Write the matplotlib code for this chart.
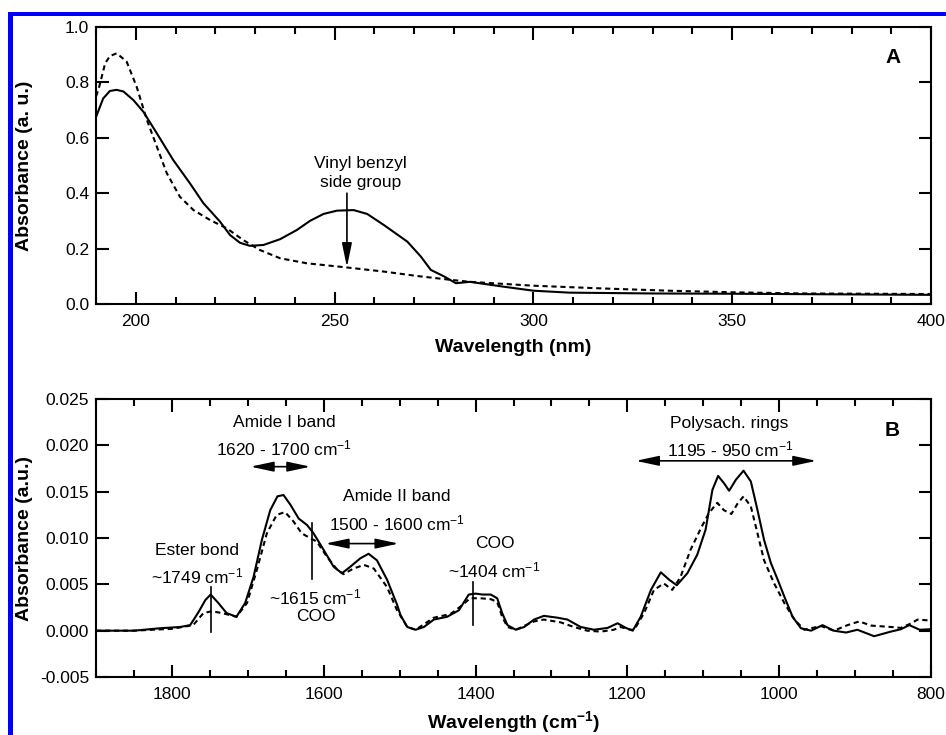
import matplotlib

matplotlib.use("Agg")
import matplotlib.pyplot as plt
from matplotlib.patches import Rectangle
from matplotlib.ticker import MultipleLocator, FormatStrFormatter

plt.rcParams["font.family"] = ["Liberation Sans", "DejaVu Sans"]
plt.rcParams["mathtext.fontset"] = "custom"
plt.rcParams["mathtext.rm"] = "Liberation Sans"
plt.rcParams["mathtext.it"] = "Liberation Sans:italic"
plt.rcParams["mathtext.bf"] = "Liberation Sans:bold"

# ---- panel A: UV-vis ----
uv_nm_solid = [190, 191.8, 193.5, 195.2, 196.9, 199.4, 201.9, 205.3, 209.4, 213.6, 217,
               221.2, 223.7, 226.2, 228.7, 232.1, 236.3, 240.5, 243.8, 247.2, 250.6,
               254.8, 258.2, 262.4, 268.3, 271.7, 274.2, 277.6, 280.5, 284, 292.5, 300,
               309, 330, 350, 375, 400]
uv_abs_solid = [0.675, 0.742, 0.769, 0.773, 0.767, 0.736, 0.694, 0.616, 0.52, 0.436, 0.364,
                0.297, 0.249, 0.221, 0.21, 0.213, 0.234, 0.267, 0.3, 0.325, 0.337,
                0.339, 0.325, 0.285, 0.225, 0.171, 0.123, 0.099, 0.075, 0.08, 0.0625, 0.048,
                0.041, 0.038, 0.037, 0.035, 0.033]

uv_nm_dash = [190, 190.6, 192.3, 193.5, 195.2, 197.7, 200.2, 202.8, 205.3, 207.8, 211.1,
              214.5, 218.7, 222.9, 227, 231.2, 236.3, 243, 253, 262.4, 270.8, 279.3, 284,
              300, 317.6, 334, 351, 368, 400]
uv_abs_dash = [0.75, 0.773, 0.869, 0.895, 0.905, 0.875, 0.785, 0.664, 0.568, 0.472, 0.387,
               0.339, 0.303, 0.273, 0.231, 0.195, 0.165, 0.147, 0.132, 0.117, 0.101, 0.087,
               0.08, 0.066, 0.056, 0.048, 0.042, 0.038, 0.036]

# ---- panel B: FTIR ----
ir_cm_solid = [1900, 1850, 1816, 1789, 1776, 1765, 1756, 1749, 1739, 1728, 1715, 1703.5,
               1692.5, 1681.5, 1670.5, 1661, 1653, 1644, 1633, 1622, 1613.4, 1600, 1587,
               1576, 1565, 1552, 1541, 1530, 1516.6, 1503.4, 1499, 1490, 1479, 1468, 1455,
               1437.5, 1422, 1409, 1400, 1391, 1380, 1371.5, 1365, 1358, 1347, 1336, 1323,
               1310, 1292, 1279, 1261.6, 1244, 1226, 1213, 1202, 1193, 1182.5, 1169, 1156,
               1145, 1135, 1121, 1108, 1097, 1088, 1080.5, 1072.6, 1066, 1057, 1047,
               1037.4, 1028.6, 1020, 1011, 1002, 993.4, 982.4, 971.4, 958, 943, 928, 912,
               897, 875, 853, 840, 828.6, 815, 802, 800]
ir_abs_solid = [0.0, 0.0, 0.00026, 0.0004, 0.0006, 0.0020, 0.0033, 0.0039, 0.0030, 0.0019,
                0.0015, 0.0030, 0.0058, 0.0098, 0.0130, 0.0145, 0.01464, 0.0136, 0.0121,
                0.0114, 0.0105, 0.0087, 0.0069, 0.0062, 0.0069, 0.0078, 0.0083, 0.0076,
                0.0055, 0.0028, 0.0017, 0.0004, 0.0001, 0.0004, 0.0012, 0.0015, 0.0022,
                0.0039, 0.0040, 0.0039, 0.0039, 0.0035, 0.0019, 0.0006, 0.0001, 0.0004,
                0.0012, 0.0016, 0.0014, 0.0012, 0.0004, 0.0001, 0.0003, 0.0008, 0.0003,
                0.0, 0.0015, 0.0044, 0.0063, 0.0055, 0.0049, 0.0062, 0.0082, 0.0109, 0.0152,
                0.0167, 0.0159, 0.0151, 0.0163, 0.01727, 0.0161, 0.0130, 0.0098, 0.0073,
                0.0055, 0.0037, 0.0015, 0.00026, 0.0, 0.0006, 0.0, -0.0002, 0.0001, -0.0006,
                -0.0001, 0.00015, 0.0006, 0.0001, 0.00015, 0.00015]

ir_cm_dash = [1900, 1850, 1800, 1772, 1758.5, 1747.5, 1734, 1715, 1701, 1688, 1675, 1662,
              1651, 1640, 1629, 1618, 1609, 1596, 1582.5, 1574, 1561, 1547, 1534, 1516.6,
              1503.4, 1490, 1479, 1455, 1433, 1420, 1407, 1393.5, 1380, 1371.5, 1365, 1358,
              1347, 1323, 1310, 1288, 1270.5, 1253, 1235, 1218, 1209, 1196, 1191, 1178,
              1165, 1152, 1141, 1130, 1117, 1103.5, 1092.6, 1081.6, 1072.8, 1063, 1055,
              1047, 1037.4, 1028.6, 1020, 1006.7, 993.4, 980, 967, 945, 928, 910, 894.6,
              879, 853, 840, 828.6, 817.6, 802, 800]
ir_abs_dash = [0.0, 0.0, 0.0002, 0.0006, 0.0019, 0.0021, 0.0019, 0.0015, 0.0030, 0.0066,
               0.0105, 0.0125, 0.0128, 0.0118, 0.0105, 0.0100, 0.0096, 0.0080, 0.0066,
               0.0061, 0.0067, 0.0071, 0.0067, 0.0047, 0.0022, 0.0004, 0.0001, 0.0014,
               0.0018, 0.0026, 0.0035, 0.0035, 0.0034, 0.0031, 0.0015, 0.0004, 0.0001,
               0.0010, 0.0012, 0.0009, 0.0004, 0.0, -0.0001, 0.0001, 0.0004, 0.0001, 0.0001,
               0.0019, 0.0044, 0.0051, 0.0044, 0.0058, 0.0087, 0.0110, 0.0127, 0.0138,
               0.0130, 0.0126, 0.0137, 0.0145, 0.0134, 0.0105, 0.0076, 0.0051, 0.0030,
               0.0012, 0.0001, 0.0005, 0.0, 0.0006, 0.0010, 0.00055, 0.0004, 0.0003, 0.0007,
               0.0012, 0.0011, 0.0011]

DASH = (0, (2.5, 1.8))
TICK = 12.5
LABEL = 14
NOTE = 12.5

fig = plt.figure(figsize=(9.46, 7.35), dpi=100)

# blue frame on top and left edge of the original figure
fig.add_artist(Rectangle((8 / 946, 0), 5 / 946, 1 - 12 / 735,
                         transform=fig.transFigure, color="#0000ff", lw=0))
fig.add_artist(Rectangle((8 / 946, 1 - 16 / 735), 1, 4 / 735,
                         transform=fig.transFigure, color="#0000ff", lw=0))

axA = fig.add_axes([0.1015, 0.5864, 0.8827, 0.3769])
axB = fig.add_axes([0.1015, 0.0789, 0.8827, 0.3782])


def style(ax):
    for sp in ax.spines.values():
        sp.set_linewidth(1.5)
    ax.tick_params(which="both", direction="in", top=True, right=True, width=1.5,
                   labelsize=TICK)
    ax.tick_params(which="major", length=9)
    ax.tick_params(which="minor", length=5)
    ax.tick_params(axis="x", pad=7.5)
    ax.tick_params(axis="y", pad=5)
    ax.yaxis.set_label_coords(-0.0754, 0.5)


# ---- A ----
axA.plot(uv_nm_solid, uv_abs_solid, color="k", lw=1.5)
axA.plot(uv_nm_dash, uv_abs_dash, color="k", lw=1.5, linestyle=DASH)
axA.set_xlim(190, 400)
axA.set_ylim(0, 1.0)
axA.xaxis.set_major_locator(MultipleLocator(50))
axA.xaxis.set_minor_locator(MultipleLocator(10))
axA.yaxis.set_major_locator(MultipleLocator(0.2))
axA.yaxis.set_major_formatter(FormatStrFormatter("%.1f"))
axA.set_xlabel("Wavelength (nm)", fontsize=LABEL, fontweight="bold", labelpad=7)
axA.set_ylabel("Absorbance (a. u.)", fontsize=LABEL, fontweight="bold")
style(axA)
axA.annotate("", xy=(253.1, 0.133), xytext=(253.1, 0.40),
             arrowprops=dict(arrowstyle="-|>,head_length=1.45,head_width=0.3",
                             mutation_scale=10, color="k", lw=1.2, shrinkA=0, shrinkB=0))
axA.text(256.5, 0.507, "Vinyl benzyl", ha="center", va="center", fontsize=NOTE)
axA.text(256.5, 0.437, "side group", ha="center", va="center", fontsize=NOTE)
axA.text(390.4, 0.89, "A", ha="center", va="center", fontsize=15, fontweight="bold")

# ---- B ----
axB.plot(ir_cm_solid, ir_abs_solid, color="k", lw=1.5)
axB.plot(ir_cm_dash, ir_abs_dash, color="k", lw=1.5, linestyle=DASH)
axB.set_xlim(1900, 800)
axB.set_ylim(-0.005, 0.025)
axB.xaxis.set_major_locator(MultipleLocator(200))
axB.xaxis.set_minor_locator(MultipleLocator(50))
axB.yaxis.set_major_locator(MultipleLocator(0.005))
axB.yaxis.set_major_formatter(FormatStrFormatter("%.3f"))
axB.set_xlabel(r"Wavelength (cm$^{\mathbf{-1}}$)", fontsize=LABEL, fontweight="bold",
               labelpad=5)
axB.set_ylabel("Absorbance (a.u.)", fontsize=LABEL, fontweight="bold")
style(axB)

arrow2 = dict(arrowstyle="<|-|>,head_length=1.4,head_width=0.3", mutation_scale=10,
              color="k", lw=1.2, shrinkA=0, shrinkB=0)

# marker lines at band positions
axB.plot([1748, 1748], [-0.00015, 0.0047], color="k", lw=1.2)
axB.plot([1615, 1615], [0.0056, 0.01167], color="k", lw=1.2)
axB.plot([1404, 1404], [0.0006, 0.0053], color="k", lw=1.2)

axB.text(1766.7, 0.0087, "Ester bond", ha="center", va="center", fontsize=NOTE)
axB.text(1766.7, 0.0058, r"~1749 cm$^{-1}$", ha="center", va="center", fontsize=NOTE)

axB.text(1652.6, 0.0225, "Amide I band", ha="center", va="center", fontsize=NOTE)
axB.text(1652.6, 0.0197, r"1620 - 1700 cm$^{-1}$", ha="center", va="center", fontsize=NOTE)
axB.annotate("", xy=(1617.5, 0.0177), xytext=(1696.5, 0.0177), arrowprops=arrow2)

axB.text(1611, 0.00357, r"~1615 cm$^{-1}$", ha="center", va="center", fontsize=NOTE)
axB.text(1611, 0.0015, "COO", ha="center", va="center", fontsize=NOTE)

axB.text(1503.5, 0.01444, "Amide II band", ha="center", va="center", fontsize=NOTE)
axB.text(1503.5, 0.01156, r"1500 - 1600 cm$^{-1}$", ha="center", va="center", fontsize=NOTE)
axB.annotate("", xy=(1501.3, 0.0094), xytext=(1597.8, 0.0094), arrowprops=arrow2)

axB.text(1375, 0.0094, "COO", ha="center", va="center", fontsize=NOTE)
axB.text(1375, 0.0065, r"~1404 cm$^{-1}$", ha="center", va="center", fontsize=NOTE)

axB.text(1065.5, 0.02236, "Polysach. rings", ha="center", va="center", fontsize=NOTE)
axB.text(1064.6, 0.01956, r"1195 - 950 cm$^{-1}$", ha="center", va="center", fontsize=NOTE)
axB.annotate("", xy=(951, 0.01833), xytext=(1189, 0.01833), arrowprops=arrow2)

axB.text(850.7, 0.0216, "B", ha="center", va="center", fontsize=15, fontweight="bold")

fig.savefig("out.png", dpi=100)
